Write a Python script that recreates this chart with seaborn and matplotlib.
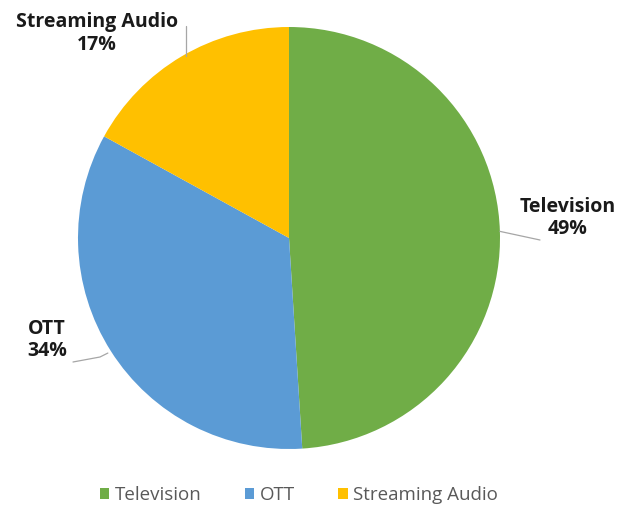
import numpy as np
import matplotlib
matplotlib.use("Agg")
import matplotlib.pyplot as plt
import seaborn as sns
from matplotlib.patches import Patch

categories = ["Television", "OTT", "Streaming Audio"]
values = [49, 34, 17]
colors = ["#70AD47", "#5B9BD5", "#FFC000"]

sns.set_theme(style="white")
plt.rcParams['font.family'] = ['Open Sans', 'DejaVu Sans']

W, H = 639, 516
fig = plt.figure(figsize=(W / 100, H / 100), dpi=100)

cx, cy, r = 289, 238, 211
def fx(px): return px / W
def fy(py): return 1 - py / H

ax = fig.add_axes([fx(cx - r), fy(cy + r), 2 * r / W, 2 * r / H])
wedges, _ = ax.pie(values, colors=colors, startangle=90, counterclock=False,
                   radius=1, wedgeprops=dict(linewidth=0))
ax.set_xlim(-1, 1)
ax.set_ylim(-1, 1)
ax.set_aspect('auto')
ax.axis('off')

# label positions (pixel centers)
label_pos = {
    "Television": (568, 218),
    "OTT": (47, 340),
    "Streaming Audio": (97, 33),
}
leader_end = {
    "Television": (540, 240),
    "OTT": (73, 362),
    "Streaming Audio": (186, 26),
}
for w, cat, v in zip(wedges, categories, values):
    mid = np.deg2rad((w.theta1 + w.theta2) / 2)
    ex, ey = cx + r * np.cos(mid), cy - r * np.sin(mid)
    tx, ty = leader_end[cat]
    if cat == "Streaming Audio":
        xs, ys = [ex + 4, ex + 4], [ey, ty]
    elif cat == "OTT":
        xs, ys = [ex - 3, 100, tx], [ey + 2, 357, ty]
    else:
        xs, ys = [ex, tx], [ey, ty]
    fig.add_artist(plt.Line2D([fx(x) for x in xs], [fy(y) for y in ys],
                              color="#a6a6a6", lw=0.9))
    lx, ly = label_pos[cat]
    fig.text(fx(lx), fy(ly), f"{cat}\n{v}%", ha='center', va='center', fontsize=14,
             fontweight='bold', color="#1a1a1a", linespacing=1.2)

handles = [Patch(facecolor=c, edgecolor='none') for c in colors]
fig.legend(handles, categories, loc='center', bbox_to_anchor=(fx(299), fy(495)),
           ncol=3, frameon=False, fontsize=13.5, handlelength=0.5, handleheight=0.5,
           handletextpad=0.3, columnspacing=2.3, labelcolor="#595959")

fig.savefig("out.png", dpi=100, facecolor='white')
